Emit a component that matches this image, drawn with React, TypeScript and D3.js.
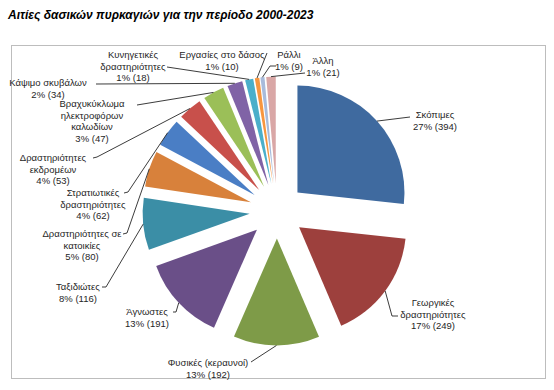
import React, { useEffect, useRef } from "react";
import * as d3 from "d3";

const title = "Αιτίες δασικών πυρκαγιών για την περίοδο 2000-2023";

// causes, clockwise from 12 o'clock ("\n" = label line break)
const categories = [
  "Σκόπιμες",
  "Γεωργικές\nδραστηριότητες",
  "Φυσικές (κεραυνοί)",
  "Άγνωστες",
  "Ταξιδιώτες",
  "Δραστηριότητες σε\nκατοικίες",
  "Στρατιωτικές\nδραστηριότητες",
  "Δραστηριότητες\nεκδρομέων",
  "Βραχυκύκλωμα\nηλεκτροφόρων\nκαλωδίων",
  "Κάψιμο σκυβάλων",
  "Κυνηγετικές\nδραστηριότητες",
  "Εργασίες στο δάσος",
  "Ράλλι",
  "Άλλη",
];
const values = [394, 249, 192, 191, 116, 80, 62, 53, 47, 34, 18, 10, 9, 21];

const colors = [
  "#3f6a9f", "#9d403d", "#7e9b48", "#6a4f88", "#3b8ea6", "#d8813b",
  "#4a7ec5", "#c8504b", "#9bbf58", "#8063a6", "#4bafca", "#f7963f",
  "#a8bbdb", "#d9a7a6",
];

// label layout: centre of first text line, and leader-line start on the label side
const labelPos: [number, number][] = [
  [435, 115], [433, 303], [208, 363], [147, 312], [78, 287], [82, 234],
  [93, 193], [53, 158], [92, 104], [48, 83], [133, 55], [222, 55],
  [289, 55], [323, 61],
];
const leaderStart: [number, number][][] = [
  [[410, 117]], [[398, 316], [392, 316]], [[251, 362]], [[173, 312], [176, 312]],
  [[102, 287], [106, 287]], [[123, 234], [127, 233]], [[124, 193], [128, 192]],
  [[93, 158], [97, 157]], [[137, 105]], [[96, 84]], [[167, 67]], [[267, 53]],
  [[276, 66], [270, 66]], [[305, 73]],
];

const W = 554;
const H = 390;

const App = () => {
  const ref = useRef<SVGSVGElement>(null);

  useEffect(() => {
    const svg = d3.select(ref.current);
    svg.selectAll("*").remove();

    const cx = 277;
    const cy = 211;
    const radius = 107;
    const explode = 27.5;
    const total = d3.sum(values);

    svg
      .append("text")
      .attr("x", 8)
      .attr("y", 19)
      .attr("font-family", "Liberation Sans, Arial, sans-serif")
      .attr("font-size", 12)
      .attr("font-weight", "bold")
      .attr("font-style", "italic")
      .attr("fill", "#000")
      .text(title);

    svg
      .append("rect")
      .attr("x", 11.5)
      .attr("y", 45.5)
      .attr("width", 534)
      .attr("height", 333)
      .attr("fill", "#fff")
      .attr("stroke", "#bdbdbd");

    const pie = d3
      .pie<number>()
      .sort(null)
      .value((d) => d);
    const arcs = pie(values);
    const arc = d3.arc<d3.PieArcDatum<number>>().innerRadius(0).outerRadius(radius);

    const offset = (d: d3.PieArcDatum<number>) => {
      const mid = (d.startAngle + d.endAngle) / 2;
      return [Math.sin(mid) * explode, -Math.cos(mid) * explode];
    };

    const g = svg.append("g").attr("transform", `translate(${cx},${cy})`);

    g.selectAll("path")
      .data(arcs)
      .join("path")
      .attr("d", arc)
      .attr("fill", (d, i) => colors[i])
      .attr("transform", (d) => {
        const [ox, oy] = offset(d);
        return `translate(${ox},${oy})`;
      });

    // leader lines
    const line = d3.line();
    arcs.forEach((d, i) => {
      const mid = (d.startAngle + d.endAngle) / 2;
      const [ox, oy] = offset(d);
      const end: [number, number] = [
        cx + ox + Math.sin(mid) * radius,
        cy + oy - Math.cos(mid) * radius,
      ];
      svg
        .append("path")
        .attr("d", line([...leaderStart[i], end]))
        .attr("fill", "none")
        .attr("stroke", "#262626")
        .attr("stroke-width", 0.9);
    });

    // labels
    arcs.forEach((d, i) => {
      const lines = categories[i].split("\n");
      lines.push(`${Math.round((d.value / total) * 100)}% (${d.value})`);
      const t = svg
        .append("text")
        .attr("font-family", "Liberation Sans, Arial, sans-serif")
        .attr("font-size", 9.5)
        .attr("fill", "#262626")
        .attr("text-anchor", "middle");
      lines.forEach((s, k) => {
        t.append("tspan")
          .attr("x", labelPos[i][0])
          .attr("y", labelPos[i][1] + k * 11.5)
          .attr("dy", "0.35em")
          .text(s);
      });
    });
  }, []);

  return (
    <svg
      ref={ref}
      width={W}
      height={H}
      style={{ position: "absolute", left: 0, top: 0, background: "#fff" }}
    />
  );
};

export default App;
